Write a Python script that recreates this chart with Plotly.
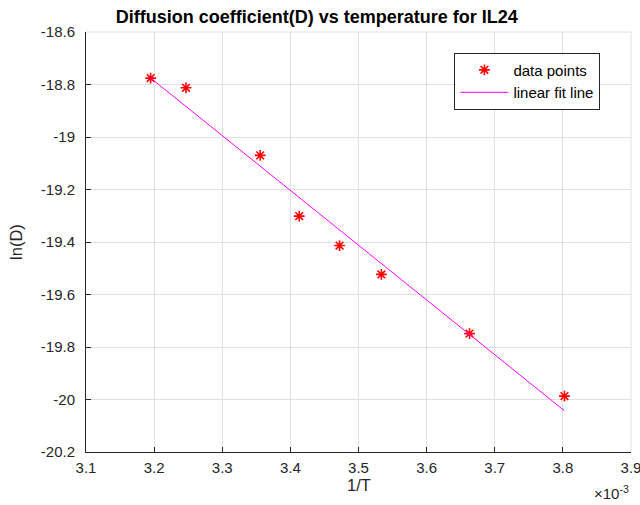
import numpy as np
import plotly.graph_objects as go

# 1/T in units of 1e-3 K^-1 and measured ln(D)
inv_T = [3.1949, 3.2468, 3.3557, 3.4130, 3.4722, 3.5336, 3.6630, 3.8023]
ln_D = [-18.7756, -18.8126, -19.0700, -19.3013, -19.4135, -19.5234, -19.7490, -19.9870]

x_ticks = [3.1, 3.2, 3.3, 3.4, 3.5, 3.6, 3.7, 3.8, 3.9]
x_tick_text = ["3.1", "3.2", "3.3", "3.4", "3.5", "3.6", "3.7", "3.8", "3.9"]
y_ticks = [-18.6, -18.8, -19.0, -19.2, -19.4, -19.6, -19.8, -20.0, -20.2]
y_tick_text = ["-18.6", "-18.8", "-19", "-19.2", "-19.4", "-19.6", "-19.8", "-20", "-20.2"]

# least-squares straight line through the points
slope, intercept = np.polyfit(inv_T, ln_D, 1)
fit_x = np.array(inv_T)
fit_y = slope * fit_x + intercept

AX = "#262626"
GRID = "#e0e0e0"
FONT = "Liberation Sans, Arial, sans-serif"

fig = go.Figure()
fig.add_trace(go.Scatter(
    x=inv_T, y=ln_D, mode="markers", name="data points",
    marker=dict(symbol="asterisk-open", size=9, color="#ff0000",
                line=dict(color="#ff0000", width=1.6)),
))
fig.add_trace(go.Scatter(
    x=fit_x, y=fit_y, mode="lines", name="linear fit line",
    line=dict(color="#ff00ff", width=1),
))

# grid lines along the open top and right edges of the axes box
edge_lines = [
    dict(type="line", xref="paper", yref="paper", x0=0, x1=1, y0=1, y1=1,
         line=dict(color=GRID, width=1), layer="below"),
    dict(type="line", xref="paper", yref="paper", x0=1, x1=1, y0=0, y1=1,
         line=dict(color=GRID, width=1), layer="below"),
]

fig.update_layout(
    width=640, height=505,
    margin=dict(l=86, r=9, t=32, b=53),
    paper_bgcolor="white", plot_bgcolor="white",
    font=dict(family=FONT, size=15, color=AX),
    title=dict(text="<b>Diffusion coefficient(D) vs temperature for IL24</b>",
               x=0.495, xanchor="center", y=1 - 17 / 505, yanchor="middle",
               font=dict(size=18, color="#000000")),
    showlegend=True,
    legend=dict(x=0.676, y=0.951, xanchor="left", yanchor="top",
                bgcolor="white", bordercolor=AX, borderwidth=1,
                font=dict(size=15, color="#000000"),
                itemwidth=48, tracegroupgap=0),
    shapes=edge_lines,
    xaxis=dict(range=[3.1, 3.9], tickvals=x_ticks, ticktext=x_tick_text,
               automargin=False, ticklabeloverflow="allow",
               showgrid=True, gridcolor=GRID, gridwidth=1, zeroline=False,
               showline=True, linecolor=AX, linewidth=1,
               ticks="inside", ticklen=5, tickcolor=AX, ticklabelstandoff=2,
               tickfont=dict(size=15, color=AX)),
    yaxis=dict(range=[-20.2, -18.6], tickvals=y_ticks, ticktext=y_tick_text,
               automargin=False, ticklabeloverflow="allow",
               showgrid=True, gridcolor=GRID, gridwidth=1, zeroline=False,
               showline=True, linecolor=AX, linewidth=1,
               ticks="inside", ticklen=5, tickcolor=AX, ticklabelstandoff=7,
               title=dict(text="ln(D)", font=dict(size=16.5, color=AX), standoff=14),
               tickfont=dict(size=15, color=AX)),
    annotations=[
        dict(text="1/T", xref="paper", yref="paper", x=0.5, y=-0.079,
             xanchor="center", yanchor="middle", showarrow=False,
             font=dict(size=16.5, color=AX)),
        dict(text="×10<sup>-3</sup>", xref="paper", yref="paper",
             x=1.0, y=-0.068, xanchor="right", yanchor="top",
             showarrow=False, font=dict(size=15, color=AX)),
    ],
)

fig.write_html("out.html")
